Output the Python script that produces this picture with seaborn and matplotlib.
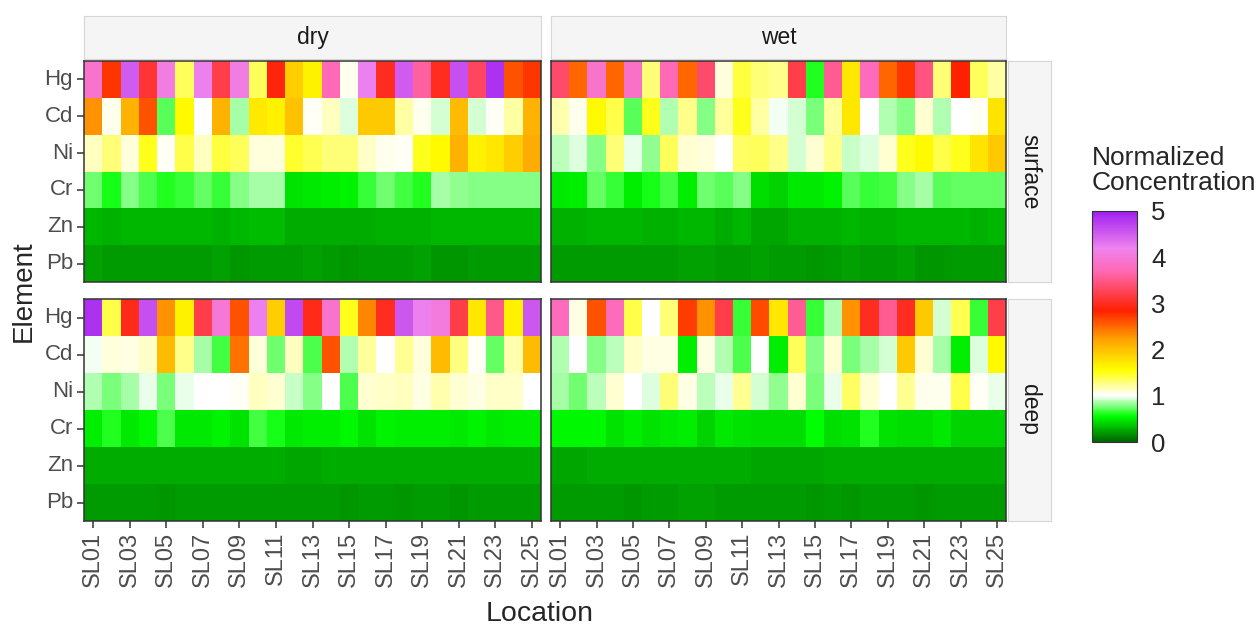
import numpy as np
import pandas as pd
import seaborn as sns
import matplotlib.pyplot as plt
from matplotlib.colors import LinearSegmentedColormap, Normalize
from matplotlib.cm import ScalarMappable

elements = ['Hg', 'Cd', 'Ni', 'Cr', 'Zn', 'Pb']
locations = ['SL%02d' % i for i in range(1, 26)]
seasons = ['dry', 'wet']
depths = ['surface', 'deep']

# normalized concentrations, one list per element
dry_surface = {
    'Hg': [3.9, 2.75, 4.5, 3.1, 4.1, 1.35, 4.2, 3.2, 4.1, 1.35, 2.9, 1.9, 1.65, 3.7, 1.05,
           4.2, 3.0, 4.5, 3.6, 3.0, 4.6, 3.3, 4.85, 2.6, 2.75],
    'Cd': [2.3, 1.05, 2.1, 2.6, 0.72, 1.6, 1.0, 2.1, 0.85, 1.7, 1.65, 2.0, 1.02, 1.15, 0.95,
           1.95, 1.95, 1.2, 1.05, 0.93, 2.05, 0.93, 1.03, 1.2, 2.1],
    'Ni': [1.15, 1.3, 1.08, 1.5, 1.03, 1.4, 1.15, 1.42, 1.35, 1.08, 1.08, 1.45, 1.38, 1.3, 1.3,
           1.12, 1.05, 1.02, 1.5, 1.6, 2.1, 1.65, 1.72, 1.9, 2.15],
    'Cr': [0.75, 0.6, 0.8, 0.7, 0.62, 0.65, 0.74, 0.65, 0.8, 0.85, 0.85, 0.45, 0.47, 0.5, 0.52,
           0.65, 0.75, 0.68, 0.62, 0.85, 0.82, 0.8, 0.8, 0.8, 0.8],
    'Zn': [0.3, 0.29, 0.31, 0.3, 0.3, 0.3, 0.3, 0.29, 0.31, 0.33, 0.33, 0.26, 0.26, 0.27, 0.27,
           0.27, 0.28, 0.28, 0.28, 0.3, 0.31, 0.3, 0.3, 0.31, 0.3],
    'Pb': [0.22, 0.21, 0.2, 0.21, 0.2, 0.2, 0.21, 0.22, 0.19, 0.2, 0.21, 0.2, 0.22, 0.21, 0.19,
           0.21, 0.2, 0.21, 0.22, 0.19, 0.18, 0.2, 0.21, 0.2, 0.21],
}
wet_surface = {
    'Hg': [3.35, 2.5, 3.9, 2.5, 3.85, 1.3, 3.7, 2.5, 3.35, 1.08, 1.42, 1.3, 1.25, 3.2, 0.62,
           3.55, 1.72, 3.75, 2.5, 2.75, 3.45, 1.3, 2.85, 1.35, 1.2],
    'Cd': [1.18, 1.05, 1.6, 1.4, 0.72, 1.5, 0.86, 1.25, 0.8, 1.22, 1.5, 1.2, 0.98, 0.93, 0.77,
           1.22, 1.72, 1.0, 0.86, 0.8, 1.1, 0.86, 1.0, 1.02, 1.75],
    'Ni': [0.88, 0.95, 0.8, 1.3, 0.96, 0.82, 1.35, 1.1, 1.08, 1.0, 1.33, 1.36, 1.25, 0.93, 1.1,
           1.25, 0.9, 0.95, 1.1, 1.5, 1.6, 1.4, 1.5, 1.75, 1.95],
    'Cr': [0.47, 0.5, 0.74, 0.66, 0.5, 0.6, 0.68, 0.5, 0.75, 0.72, 0.8, 0.43, 0.41, 0.47, 0.48,
           0.52, 0.72, 0.66, 0.67, 0.8, 0.85, 0.72, 0.74, 0.74, 0.74],
    'Zn': [0.29, 0.29, 0.3, 0.3, 0.3, 0.29, 0.29, 0.3, 0.3, 0.26, 0.31, 0.25, 0.25, 0.28, 0.28,
           0.29, 0.3, 0.28, 0.28, 0.3, 0.3, 0.3, 0.3, 0.29, 0.3],
    'Pb': [0.21, 0.21, 0.2, 0.21, 0.21, 0.2, 0.21, 0.22, 0.22, 0.21, 0.21, 0.22, 0.21, 0.21, 0.19,
           0.21, 0.22, 0.21, 0.21, 0.22, 0.19, 0.19, 0.2, 0.21, 0.2],
}
dry_deep = {
    'Hg': [4.85, 1.4, 2.95, 4.6, 2.3, 1.65, 3.2, 4.0, 2.6, 4.2, 1.9, 4.65, 2.95, 3.9, 1.5,
           2.35, 3.0, 4.55, 4.2, 4.05, 3.2, 1.72, 3.5, 1.65, 4.55],
    'Cd': [0.98, 1.08, 1.06, 1.12, 2.05, 1.25, 0.85, 0.67, 2.45, 1.08, 0.76, 1.15, 0.69, 2.6, 0.87,
           1.22, 1.0, 1.24, 1.08, 2.05, 1.28, 1.02, 0.74, 1.18, 2.05],
    'Ni': [0.87, 0.77, 0.85, 0.96, 0.77, 0.96, 1.01, 1.01, 1.02, 1.15, 1.1, 0.9, 0.8, 1.0, 0.7,
           1.1, 1.12, 1.15, 1.06, 1.18, 1.1, 1.06, 1.13, 1.12, 1.0],
    'Cr': [0.5, 0.62, 0.48, 0.53, 0.7, 0.48, 0.48, 0.51, 0.46, 0.67, 0.6, 0.48, 0.5, 0.5, 0.53,
           0.46, 0.51, 0.5, 0.5, 0.5, 0.48, 0.52, 0.48, 0.5, 0.5],
    'Zn': [0.26, 0.26, 0.27, 0.26, 0.26, 0.26, 0.26, 0.26, 0.27, 0.27, 0.27, 0.25, 0.25, 0.26, 0.26,
           0.26, 0.26, 0.26, 0.26, 0.26, 0.26, 0.26, 0.26, 0.26, 0.26],
    'Pb': [0.21, 0.21, 0.21, 0.21, 0.19, 0.21, 0.21, 0.21, 0.21, 0.21, 0.21, 0.2, 0.21, 0.21, 0.18,
           0.2, 0.2, 0.19, 0.2, 0.2, 0.19, 0.21, 0.2, 0.21, 0.21],
}
wet_deep = {
    'Hg': [3.75, 1.06, 2.6, 3.75, 1.4, 1.0, 1.3, 2.7, 2.3, 3.2, 0.66, 2.65, 1.72, 3.55, 0.66,
           0.86, 2.3, 3.0, 3.55, 3.0, 1.95, 0.93, 1.38, 0.66, 3.2],
    'Cd': [0.87, 1.0, 0.8, 0.88, 1.12, 1.06, 1.06, 0.5, 1.06, 0.87, 0.69, 1.01, 0.5, 1.35, 0.8,
           1.1, 0.77, 0.85, 0.93, 1.95, 1.1, 0.85, 0.5, 0.95, 1.6],
    'Ni': [0.85, 0.75, 0.88, 1.1, 1.0, 0.95, 1.3, 1.06, 0.88, 0.96, 1.24, 0.93, 0.82, 1.1, 0.77,
           0.96, 1.33, 1.1, 1.0, 1.24, 1.04, 1.04, 1.4, 1.02, 0.96],
    'Cr': [0.53, 0.53, 0.53, 0.46, 0.5, 0.46, 0.48, 0.5, 0.41, 0.48, 0.46, 0.43, 0.44, 0.44, 0.56,
           0.43, 0.46, 0.62, 0.46, 0.43, 0.44, 0.48, 0.41, 0.41, 0.41],
    'Zn': [0.25, 0.25, 0.27, 0.27, 0.27, 0.27, 0.27, 0.27, 0.27, 0.27, 0.27, 0.25, 0.25, 0.25, 0.25,
           0.26, 0.26, 0.26, 0.26, 0.27, 0.26, 0.26, 0.26, 0.26, 0.26],
    'Pb': [0.21, 0.21, 0.21, 0.21, 0.19, 0.21, 0.21, 0.22, 0.22, 0.21, 0.21, 0.21, 0.21, 0.21, 0.18,
           0.21, 0.19, 0.21, 0.21, 0.21, 0.19, 0.21, 0.21, 0.21, 0.21],
}

panels = {('dry', 'surface'): dry_surface, ('wet', 'surface'): wet_surface,
          ('dry', 'deep'): dry_deep, ('wet', 'deep'): wet_deep}

# long table like the original tidy data
rows = []
for (season, depth), d in panels.items():
    for el in elements:
        for loc, v in zip(locations, d[el]):
            rows.append((season, depth, el, loc, v))
df = pd.DataFrame(rows, columns=['season', 'depth', 'element', 'location', 'value'])

stops = [(0.0, '#006400'), (0.55, '#00FF00'), (1.0, '#FFFFFF'), (1.55, '#FFFF00'),
         (2.2, '#FFA500'), (2.85, '#FF2000'), (3.7, '#FF69B4'), (4.2, '#EE82EE'),
         (5.0, '#A020F0')]
cmap = LinearSegmentedColormap.from_list('conc', [(v / 5, c) for v, c in stops])

sns.set_style('white')
plt.rcParams['font.family'] = ['Liberation Sans', 'DejaVu Sans']

W, H = 1259, 628
fig = plt.figure(figsize=(W / 100, H / 100), dpi=100)


def px_axes(x0, y0, x1, y1):
    return fig.add_axes([x0 / W, 1 - y1 / H, (x1 - x0) / W, (y1 - y0) / H])


col_x = {'dry': (84, 541), 'wet': (551, 1006)}
row_y = {'surface': (61, 282), 'deep': (299, 521)}
tick_col = '#4D4D4D'

for (season, depth) in panels:
    x0, x1 = col_x[season]
    y0, y1 = row_y[depth]
    ax = px_axes(x0, y0, x1, y1)
    sub = df[(df.season == season) & (df.depth == depth)]
    mat = sub.pivot(index='element', columns='location', values='value').loc[elements, locations]
    sns.heatmap(mat, ax=ax, cmap=cmap, vmin=0, vmax=5, cbar=False)
    ax.set_xlabel('')
    ax.set_ylabel('')
    for s in ax.spines.values():
        s.set_visible(True)
        s.set_color('#333333')
        s.set_linewidth(1.1)
    if depth == 'deep':
        ax.set_xticks(np.arange(0, 25, 2) + 0.5)
        ax.set_xticklabels(locations[::2], rotation=90, fontsize=17, color=tick_col)
        ax.tick_params(axis='x', length=5, width=1.1, color='#333333', pad=3, bottom=True)
    else:
        ax.set_xticks([])
    if season == 'dry':
        ax.set_yticks(np.arange(6) + 0.5)
        ax.set_yticklabels(elements, rotation=0, fontsize=16, color=tick_col)
        ax.tick_params(axis='y', length=5, width=1.1, color='#333333', pad=3, left=True)
    else:
        ax.set_yticks([])

# facet strips
for season in seasons:
    x0, x1 = col_x[season]
    sax = px_axes(x0, 16, x1, 59)
    sax.set_facecolor('#F5F5F5')
    sax.set_xticks([])
    sax.set_yticks([])
    for s in sax.spines.values():
        s.set_color('#D6D6D6')
    sax.text(0.5, 0.5, season, ha='center', va='center', fontsize=16.5, color='#1A1A1A',
             transform=sax.transAxes)
for depth in depths:
    y0, y1 = row_y[depth]
    sax = px_axes(1008, y0, 1051, y1)
    sax.set_facecolor('#F5F5F5')
    sax.set_xticks([])
    sax.set_yticks([])
    for s in sax.spines.values():
        s.set_color('#D6D6D6')
    sax.text(0.5, 0.5, depth, ha='center', va='center', fontsize=16.5, color='#1A1A1A',
             rotation=-90, transform=sax.transAxes)

fig.text(540 / W, 1 - 614 / H, 'Location', ha='center', va='center', fontsize=20.5)
fig.text(24 / W, 1 - 291 / H, 'Element', ha='center', va='center', fontsize=20, rotation=90)

# colour bar legend
cax = px_axes(1092, 211, 1137, 442)
cb = fig.colorbar(ScalarMappable(norm=Normalize(0, 5), cmap=cmap), cax=cax)
cb.outline.set_edgecolor('#333333')
cb.outline.set_linewidth(0.8)
cb.set_ticks([0, 1, 2, 3, 4, 5])
cb.ax.tick_params(length=0, labelsize=18.5, pad=10)
fig.text(1092 / W, 1 - 146 / H, 'Normalized\nConcentration', ha='left', va='top',
         fontsize=19, linespacing=1.05)

fig.savefig('out.png', dpi=100)
